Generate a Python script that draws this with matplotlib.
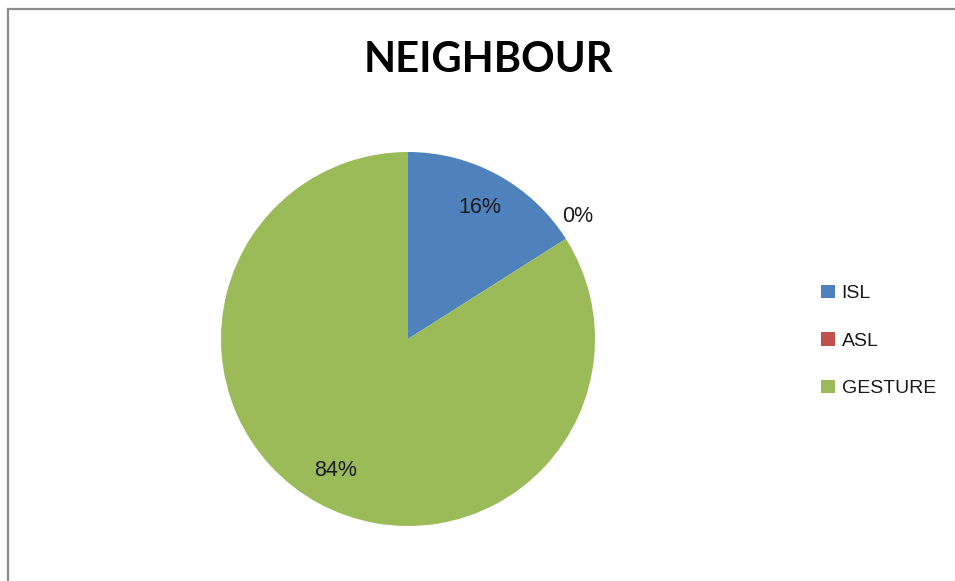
import matplotlib
matplotlib.use("Agg")
import matplotlib.pyplot as plt
from matplotlib.patches import Rectangle
import numpy as np

title = "NEIGHBOUR"
categories = ["ISL", "ASL", "GESTURE"]
values = [16, 0, 84]
colors = ["#4F81BD", "#C0504D", "#9BBB59"]

plt.rcParams["font.family"] = ["Liberation Sans", "DejaVu Sans"]

W, H = 955, 581
fig = plt.figure(figsize=(W / 100, H / 100), dpi=100)
fig.patch.set_facecolor("white")

# chart-area border (top and left edges visible)
fig.patches.append(Rectangle((8 / W, -0.2), 1.2, 1.2 - 9 / H,
                             transform=fig.transFigure, fill=False,
                             edgecolor="#8C8C8C", linewidth=1.6,
                             clip_on=False))

# pie axes: square region in pixels
cx, cy, r = 408, 339, 187
ax = fig.add_axes([(cx - r) / W, (H - cy - r) / H, 2 * r / W, 2 * r / H])
wedges, _ = ax.pie(values, colors=colors, startangle=90, counterclock=False,
                   radius=1.0, wedgeprops=dict(linewidth=0))
ax.set_xlim(-1, 1)
ax.set_ylim(-1, 1)
ax.set_aspect("equal")
ax.axis("off")

# percentage labels: inside for non-empty slices, outside for empty ones
total = sum(values)
for w, v in zip(wedges, values):
    mid = np.deg2rad((w.theta1 + w.theta2) / 2)
    if v > 0:
        dist = 0.80
    else:
        mid = np.deg2rad(w.theta1 + 3.5)
        dist = 1.12
    ax.text(dist * np.cos(mid), dist * np.sin(mid), f"{v / total * 100:.0f}%",
            ha="center", va="center", fontsize=15.5, color="#1a1a1a",
            clip_on=False)

fig.text(488.5 / W, 1 - 60 / H, title, ha="center", va="center",
         fontsize=30, fontweight="bold", color="black", family="Lato")

leg = fig.legend(wedges, categories, loc="center left",
                 bbox_to_anchor=(821 / W, 1 - 341 / H), frameon=False,
                 fontsize=14, handlelength=0.7, handleheight=0.7,
                 handletextpad=0.36, labelspacing=1.53, borderpad=0,
                 borderaxespad=0)
for t in leg.get_texts():
    t.set_color("#1a1a1a")

fig.savefig("out.png", dpi=100, facecolor="white")
